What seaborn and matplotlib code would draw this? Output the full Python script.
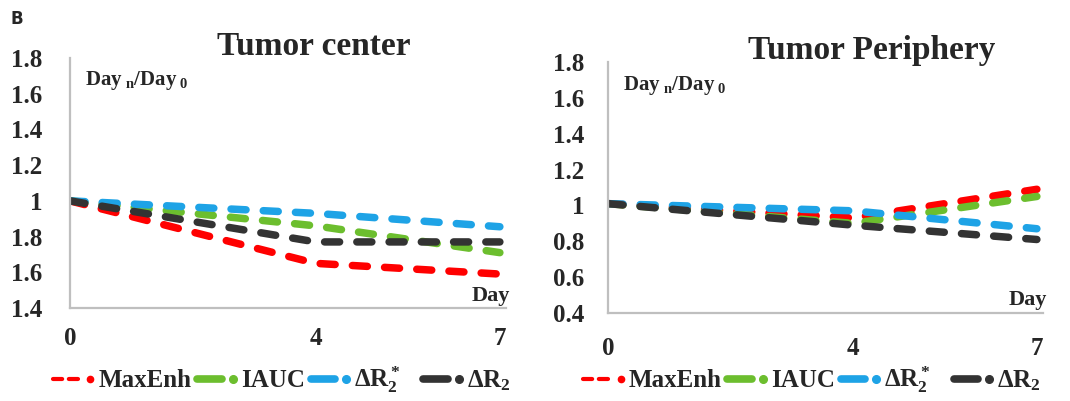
import numpy as np
import pandas as pd
import matplotlib
matplotlib.use("Agg")
import matplotlib.pyplot as plt
import seaborn as sns
from matplotlib.lines import Line2D
from matplotlib.legend_handler import HandlerBase

sns.set_style("white")
plt.rcParams['font.family'] = ['Liberation Serif', 'DejaVu Serif']
plt.rcParams['font.weight'] = 'bold'
plt.rcParams['mathtext.fontset'] = 'custom'
plt.rcParams['mathtext.rm'] = 'Liberation Serif:bold'
plt.rcParams['mathtext.it'] = 'Liberation Serif:bold'
plt.rcParams['mathtext.bf'] = 'Liberation Serif:bold'

# ---- data ----
days = [0, 4, 7]
series_names = ["MaxEnh", "IAUC", "ΔR$_2^*$   ", "ΔR$_2$"]
center_maxenh = [1.00, 0.65, 0.59]
center_iauc = [1.00, 0.86, 0.71]
center_dr2star = [1.00, 0.93, 0.855]
center_dr2 = [1.00, 0.77, 0.77]
periph_maxenh = [1.01, 0.93, 1.09]
periph_iauc = [1.01, 0.90, 1.05]
periph_dr2star = [1.01, 0.97, 0.87]
periph_dr2 = [1.01, 0.89, 0.81]
y_ticks = [0.4, 0.6, 0.8, 1.0, 1.2, 1.4, 1.6, 1.8]
center_ytick_labels = ["1.4", "1.6", "1.8", "1", "1.2", "1.4", "1.6", "1.8"]
periph_ytick_labels = ["0.4", "0.6", "0.8", "1", "1.2", "1.4", "1.6", "1.8"]
x_ticks = [0, 4, 7]
titles = ["Tumor center", "Tumor Periphery"]

colors = ["#FF0000", "#6CBE2E", "#1EA3E6", "#333333"]

fig = plt.figure(figsize=(10.70, 4.01), dpi=100)
W, H = 1070, 401


def axes_px(x0, x1, ytop, ybot):
    return fig.add_axes([x0 / W, 1 - ybot / H, (x1 - x0) / W, (ybot - ytop) / H])


ax_c = axes_px(70, 506, 58, 308)
ax_p = axes_px(608, 1043, 62, 313)

# (axes, series, ytick labels, title, ytick pad, xtick pad, title x, legend anchor)
panels = [
    (ax_c, [center_maxenh, center_iauc, center_dr2star, center_dr2], center_ytick_labels,
     titles[0], 20, 14, 0.56, (0.486, -0.288)),
    (ax_p, [periph_maxenh, periph_iauc, periph_dr2star, periph_dr2], periph_ytick_labels,
     titles[1], 17, 17, 0.607, (0.469, -0.267)),
]


class DashDotHandler(HandlerBase):
    def __init__(self, color, red=False):
        super().__init__()
        self.color = color
        self.red = red

    def create_artists(self, legend, orig_handle, xdescent, ydescent,
                       width, height, fontsize, trans):
        y = height / 2 - ydescent
        x0 = -xdescent
        arts = []
        if self.red:
            l = Line2D([x0, x0 + width * 0.70], [y, y], color=self.color, lw=3,
                       dashes=(2.2, 1.6), dash_capstyle='round', solid_capstyle='round')
        else:
            l = Line2D([x0 + width * 0.05, x0 + width * 0.62], [y, y], color=self.color, lw=5.5,
                       solid_capstyle='round')
        d = Line2D([x0 + width * 0.88], [y], marker='o', ms=5.5 if not self.red else 4.5,
                   color=self.color, lw=0)
        for a in (l, d):
            a.set_transform(trans)
            arts.append(a)
        return arts


for ax, vals, ylabels, title, ypad, xpad, tx, lanchor in panels:
    for name, v, c in zip(series_names, vals, colors):
        df = pd.DataFrame({"day": days, "ratio": v})
        sns.lineplot(data=df, x="day", y="ratio", ax=ax, color=c, lw=5.4,
                     linestyle=(0, (2.0, 2.3)), dash_capstyle='round', legend=False)
    ax.set_xlim(0, 7.1)
    ax.set_ylim(0.4, 1.8)
    ax.set_yticks(y_ticks)
    ax.set_yticklabels(ylabels)
    ax.set_xticks(x_ticks)
    ax.set_xticklabels([str(t) for t in x_ticks])
    ax.tick_params(axis='y', length=0, pad=ypad, labelsize=18)
    ax.tick_params(axis='x', length=0, pad=xpad, labelsize=18)
    for lab in ax.get_xticklabels() + ax.get_yticklabels():
        lab.set_fontweight('bold')
    ax.set_xlabel("")
    ax.set_ylabel("")
    for s in ["top", "right"]:
        ax.spines[s].set_visible(False)
    for s in ["left", "bottom"]:
        ax.spines[s].set_color("#BFBFBF")
        ax.spines[s].set_linewidth(1.6)
    ax.set_title(title, fontsize=24, fontweight='bold', pad=2.5)
    ax.title.set_x(tx)
    ax.text(0.035, 0.89, r"Day$_{\rm\ n}$/Day$_{\rm\ 0}$", transform=ax.transAxes,
            fontsize=15, fontweight='bold', ha='left', va='baseline')
    ax.text(1.01, 0.01, "Day", transform=ax.transAxes, fontsize=16,
            fontweight='bold', ha='right', va='bottom')
    handles = [Line2D([], [], color=c) for c in colors]
    hmap = {h: DashDotHandler(c, red=(i == 0)) for i, (h, c) in enumerate(zip(handles, colors))}
    ax.legend(handles, series_names, handler_map=hmap, loc='center',
              bbox_to_anchor=lanchor, ncol=4, frameon=False,
              handlelength=1.7, handletextpad=0.12, columnspacing=0.15,
              borderpad=0.1, prop={'weight': 'bold', 'size': 18})

fig.text(10 / W, 1 - 24 / H, "B", fontsize=12, fontweight='bold',
         family='DejaVu Sans', ha='left', va='baseline')

fig.savefig("out.png", dpi=100)
